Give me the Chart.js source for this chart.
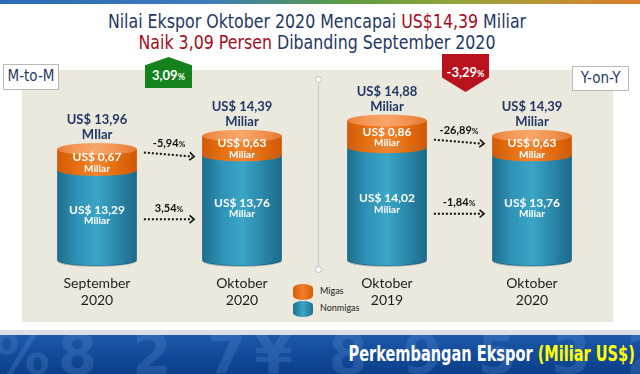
<!DOCTYPE html>
<html lang="id">
<head>
<meta charset="utf-8">
<title>Perkembangan Ekspor</title>
<script src="https://cdn.jsdelivr.net/npm/chart.js@4.4.0/dist/chart.umd.min.js"></script>
<style>
  body { margin: 0; background: #fff; }
  #wrap { position: relative; width: 640px; height: 374px; overflow: hidden; background: #fff;
          font-family: "Liberation Sans Narrow", "DejaVu Sans Condensed", "Roboto", sans-serif; }
  .strip { position: absolute; left: 0; top: 0; width: 640px; height: 4px;
           background: linear-gradient(90deg, #2b6cb3 0%, #3a7cbc 32%, #5e9c3e 55%, #97a53a 72%, #e07d2c 100%); }
  .panel { position: absolute; left: 22px; top: 70px; width: 591px; height: 252px; background: #ebe8dd; }
  .shade { position: absolute; left: 0; top: 330px; width: 640px; height: 5px; background: #dcdfe4; }
  .banner { position: absolute; left: 0; top: 335px; width: 640px; height: 39px; overflow: hidden;
            background: linear-gradient(#1d58aa, #0b3e8a); }
  .digits { position: absolute; left: -6px; top: -14px; font: bold 56px "DejaVu Sans", sans-serif;
            color: rgba(110, 160, 225, 0.22); letter-spacing: 8px; white-space: nowrap; }
  .banner-text { position: absolute; right: 5px; top: 7px; font-weight: bold; font-size: 21px; color: #fff; white-space: nowrap;
                 transform: scaleX(0.77); transform-origin: right center; }
  .banner-text span { color: #ffff00; }
  .title { position: absolute; left: 0; top: 11px; width: 634px; text-align: center; font-size: 19px;
           line-height: 21px; color: #1f3864; transform: scaleX(0.925); transform-origin: 317px 0; }
  .title .red { color: #a50d1d; }
  .tag { position: absolute; background: #fff; border: 1px solid #b9b9b9; color: #1f3864; font-size: 15px;
         text-align: center; line-height: 23px; }
  .badge { position: absolute; width: 47px; color: #fff; text-align: center;
           font: bold 13px Lato, sans-serif; }
  .badge small { font-size: 9px; }
  .up { left: 145px; top: 57px; height: 31px; background: #14821d; line-height: 36px;
        clip-path: polygon(50% 0, 100% 27%, 100% 100%, 0 100%, 0 27%); }
  .down { left: 442px; top: 54px; height: 38px; background: #b8121c; line-height: 36px;
          clip-path: polygon(0 0, 100% 0, 100% 62%, 50% 100%, 0 62%); }
  .sep { position: absolute; left: 318px; top: 80px; width: 1px; height: 188px; background: #c9c9c9; }
  .dot { position: absolute; width: 5px; height: 5px; border-radius: 50%; border: 1px solid #bdbdbd; background: #fff; left: 315px; }
  .legend { position: absolute; left: 293px; font: 9px Lato, sans-serif; color: #222; }
  .legend i { display: inline-block; width: 20px; height: 16px; border-radius: 10px / 4px; vertical-align: middle; margin-right: 7px; }
  canvas { position: absolute; left: 0; top: 0; }
</style>
</head>
<body>
<div id="wrap">
  <div class="strip"></div>
  <div class="panel"></div>
  <div class="shade"></div>
  <div class="banner">
    <div class="digits">%8 2 7¥ 8 9 5 3 2 1 4</div>
    <div class="banner-text">Perkembangan Ekspor <span>(Miliar US$)</span></div>
  </div>
  <div class="title">Nilai Ekspor Oktober 2020 Mencapai <span class="red">US$14,39</span> Miliar<br>
    <span class="red">Naik 3,09 Persen</span> Dibanding September 2020</div>
  <div class="tag" style="left:3px;top:64px;width:54px;height:24px;">M-to-M</div>
  <div class="tag" style="left:572px;top:66px;width:55px;height:23px;">Y-on-Y</div>
  <div class="badge up">3,09<small>%</small></div>
  <div class="badge down">-3,29<small>%</small></div>
  <div class="sep"></div>
  <div class="dot" style="top:76px"></div>
  <div class="dot" style="top:266px"></div>
  <div class="legend" style="top:284px"><i style="background:linear-gradient(90deg,#d85d08,#f07f2c,#d85d08)"></i>Migas</div>
  <div class="legend" style="top:301px"><i style="background:linear-gradient(90deg,#1d7190,#3ba5c5,#1d7190)"></i>Nonmigas</div>
  <canvas id="chart" width="640" height="374"></canvas>
</div>

<script>
const categories = [['September', '2020'], ['Oktober', '2020'], ['Oktober', '2019'], ['Oktober', '2020']];
const nonmigas = [13.29, 13.76, 14.02, 13.76];
const migas = [0.67, 0.63, 0.86, 0.63];
const totals = [13.96, 14.39, 14.88, 14.39];
const totalUnit = ['MIlar', 'Miliar', 'Miliar', 'Miliar'];
// pairs compared: [from, to]
const pairs = [[0, 1], [2, 3]];
const changeMigas = ['-5,94', '-26,89'];
const changeNonmigas = ['3,54', '-1,84'];
const yMin = 10.4, yMax = 16.5;

const blueStops = ['#1c6d8c', '#2f93b7', '#3aa6c6', '#2a88ab', '#1b6a88'];
const orangeStops = ['#d25a07', '#e8700f', '#f08530', '#e56c0c', '#cf5806'];
const capStops = ['#e9803a', '#f59a58', '#f7a66a', '#f39250', '#e57a30'];

function fmt(v) { return v.toFixed(2).replace('.', ','); }

function hGrad(ctx, x, half, stops) {
  const g = ctx.createLinearGradient(x - half, 0, x + half, 0);
  stops.forEach((c, i) => g.addColorStop(i / (stops.length - 1), c));
  return g;
}

function barFill(stops) {
  return function (c) {
    const chart = c.chart;
    if (!chart.chartArea) return stops[2];
    const xs = chart.scales.x;
    const x = xs.getPixelForValue(c.dataIndex);
    const half = (xs.width / categories.length) * 0.55 / 2;
    return hGrad(chart.ctx, x, half, stops);
  };
}

function pctText(ctx, num, x, y) {
  ctx.font = 'bold 11px Lato, sans-serif';
  const w1 = ctx.measureText(num).width;
  ctx.font = 'bold 8px Lato, sans-serif';
  const w2 = ctx.measureText('%').width;
  const sx = x - (w1 + w2) / 2;
  ctx.textAlign = 'left';
  ctx.fillStyle = '#111';
  ctx.font = 'bold 11px Lato, sans-serif';
  ctx.fillText(num, sx, y);
  ctx.font = 'bold 8px Lato, sans-serif';
  ctx.fillText('%', sx + w1, y + 1);
}

function arrow(ctx, x1, y1, x2, y2) {
  ctx.save();
  ctx.strokeStyle = '#111';
  ctx.lineWidth = 2;
  ctx.setLineDash([2, 2]);
  ctx.beginPath();
  ctx.moveTo(x1, y1);
  ctx.lineTo(x2 - 2, y2);
  ctx.stroke();
  ctx.setLineDash([]);
  ctx.lineWidth = 1.6;
  const a = Math.atan2(y2 - y1, x2 - x1);
  ctx.beginPath();
  ctx.moveTo(x2 - 6 * Math.cos(a - 0.7), y2 - 6 * Math.sin(a - 0.7));
  ctx.lineTo(x2, y2);
  ctx.lineTo(x2 - 6 * Math.cos(a + 0.7), y2 - 6 * Math.sin(a + 0.7));
  ctx.stroke();
  ctx.restore();
}

const cylinderPlugin = {
  id: 'cylinder',
  afterDatasetsDraw(chart) {
    const ctx = chart.ctx;
    const blue = chart.getDatasetMeta(0).data;
    const orange = chart.getDatasetMeta(1).data;
    const ry = 6;
    ctx.save();
    ctx.textBaseline = 'middle';
    blue.forEach((bar, i) => {
      const top = orange[i];
      const half = bar.width / 2;
      // bottom rim
      ctx.beginPath();
      ctx.ellipse(bar.x, bar.base, half, ry, 0, 0, Math.PI);
      ctx.fillStyle = hGrad(ctx, bar.x, half, blueStops);
      ctx.fill();
      ctx.beginPath();
      ctx.ellipse(bar.x, bar.base, half, ry, 0, 0.15, Math.PI - 0.15);
      ctx.strokeStyle = 'rgba(10,60,80,0.35)';
      ctx.lineWidth = 1.5;
      ctx.stroke();
      // orange / blue boundary
      ctx.beginPath();
      ctx.ellipse(bar.x, bar.y, half, ry, 0, 0, Math.PI);
      ctx.fillStyle = hGrad(ctx, bar.x, half, orangeStops);
      ctx.fill();
      // top cap
      ctx.beginPath();
      ctx.ellipse(top.x, top.y, half, ry, 0, 0, Math.PI * 2);
      ctx.fillStyle = hGrad(ctx, top.x, half, capStops);
      ctx.fill();

      ctx.textAlign = 'center';
      ctx.fillStyle = '#fff';
      const oc = (top.y + bar.y) / 2 + 3;
      ctx.font = 'bold 12px Lato, sans-serif';
      ctx.fillText('US$ ' + fmt(migas[i]), bar.x, oc - 5);
      ctx.font = 'bold 10px Lato, sans-serif';
      ctx.fillText('Miliar', bar.x, oc + 6);
      const bc = (bar.y + bar.base) / 2;
      ctx.font = 'bold 12px Lato, sans-serif';
      ctx.fillText('US$ ' + fmt(nonmigas[i]), bar.x, bc - 5);
      ctx.font = 'bold 10px Lato, sans-serif';
      ctx.fillText('Miliar', bar.x, bc + 6);

      ctx.fillStyle = '#1f3864';
      ctx.font = 'bold 13px Lato, sans-serif';
      ctx.fillText('US$ ' + fmt(totals[i]), bar.x, top.y - 29);
      ctx.fillText(totalUnit[i], bar.x, top.y - 14);
    });

    pairs.forEach(([a, b], k) => {
      const half = blue[a].width / 2;
      const x1 = blue[a].x + half + 7;
      const x2 = blue[b].x - half - 8;
      const yo = ((orange[a].y + blue[a].y) / 2 + (orange[b].y + blue[b].y) / 2) / 2 + 2;
      arrow(ctx, x1, yo - 2, x2, yo + 2);
      pctText(ctx, changeMigas[k], (x1 + x2) / 2, yo - 11);
      const yb = ((blue[a].y + blue[a].base) / 2 + (blue[b].y + blue[b].base) / 2) / 2 + 8;
      arrow(ctx, x1, yb, x2, yb);
      pctText(ctx, changeNonmigas[k], (x1 + x2) / 2, yb - 11);
    });
    ctx.restore();
  }
};

new Chart(document.getElementById('chart'), {
  type: 'bar',
  data: {
    labels: categories,
    datasets: [
      { label: 'Nonmigas', data: nonmigas, base: yMin, backgroundColor: barFill(blueStops), stack: 's' },
      { label: 'Migas', data: migas, backgroundColor: barFill(orangeStops), stack: 's' }
    ]
  },
  options: {
    responsive: false,
    animation: false,
    barPercentage: 0.55,
    categoryPercentage: 1,
    layout: { padding: { left: 24.5, right: 35.5, top: 70, bottom: 50.4 } },
    plugins: { legend: { display: false }, tooltip: { enabled: false } },
    scales: {
      x: {
        stacked: true,
        grid: { display: false, drawTicks: false },
        border: { display: false },
        ticks: { color: '#1e1e1e', font: { family: 'Lato, sans-serif', size: 14 }, padding: 15, maxRotation: 0 }
      },
      y: { stacked: true, display: false, min: yMin, max: yMax }
    }
  },
  plugins: [cylinderPlugin]
});
</script>
</body>
</html>
